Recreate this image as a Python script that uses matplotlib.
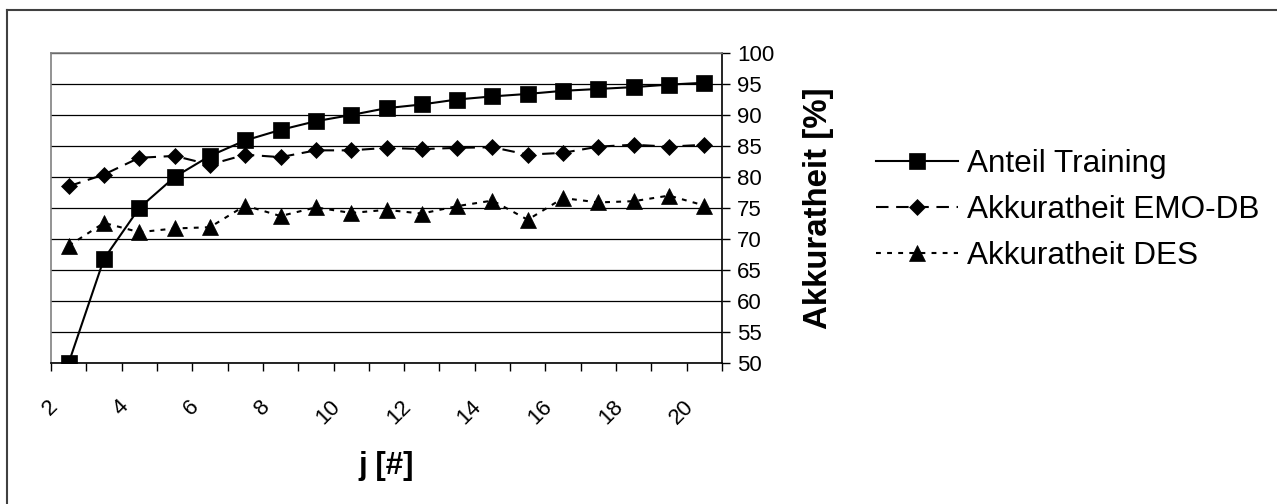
import matplotlib
matplotlib.use("Agg")
import matplotlib.pyplot as plt
from matplotlib.transforms import ScaledTranslation
from matplotlib.lines import Line2D
import numpy as np

plt.rcParams['font.family'] = ['Liberation Sans', 'DejaVu Sans']
plt.rcParams['lines.scale_dashes'] = False

# ---- data ----
j_values = list(range(2, 21))
anteil_training = [50.0, 66.8, 75.0, 80.0, 83.4, 85.9, 87.6, 89.0, 90.0, 91.1,
                   91.7, 92.5, 93.0, 93.4, 93.9, 94.2, 94.5, 94.9, 95.2]
akk_emodb = [78.5, 80.4, 83.1, 83.4, 82.0, 83.6, 83.2, 84.3, 84.3, 84.7,
             84.5, 84.7, 84.8, 83.6, 83.9, 84.9, 85.2, 84.9, 85.2]
akk_des = [68.9, 72.6, 71.1, 71.7, 71.9, 75.4, 73.7, 75.1, 74.2, 74.7,
           74.1, 75.3, 76.2, 73.1, 76.6, 75.9, 76.1, 77.0, 75.4]
series_names = ['Anteil Training', 'Akkuratheit EMO-DB', 'Akkuratheit DES']
x_label_text = 'j [#]'
y_label_text = 'Akkuratheit [%]'
y_ticks = list(range(50, 101, 5))

W, H = 1277, 504
fig = plt.figure(figsize=(W / 100, H / 100), dpi=100)
fig.patch.set_facecolor('white')

# outer chart frame (only top and left edges visible)
fig.add_artist(Line2D([7 / W, 7 / W], [0, 1 - 10 / H], transform=fig.transFigure,
                      color='#404040', lw=1.5))
fig.add_artist(Line2D([7 / W, 1], [1 - 10 / H, 1 - 10 / H], transform=fig.transFigure,
                      color='#404040', lw=1.5))

L, R, T, B = 51, 722, 53, 363
ax = fig.add_axes([L / W, 1 - B / H, (R - L) / W, (B - T) / H])

x = np.arange(len(j_values))
lw = 1.5
ax.plot(x, anteil_training, color='black', lw=lw, marker='s', markersize=11,
        markeredgewidth=0.5, label=series_names[0], zorder=5)
ax.plot(x, akk_emodb, color='black', lw=lw, dashes=(9, 5.5), marker='D',
        markersize=8, markeredgewidth=0.5, label=series_names[1], zorder=4)
ax.plot(x, akk_des, color='black', lw=lw, dashes=(3.5, 4.5), marker='^',
        markersize=11.5, markeredgewidth=0.5, label=series_names[2], zorder=4)

ax.set_xlim(-0.5, len(j_values) - 0.5)
ax.set_ylim(50, 100)

# y axis on the right
ax.yaxis.tick_right()
ax.yaxis.set_label_position('right')
ax.set_yticks(y_ticks)
ax.set_yticklabels([str(v) for v in y_ticks])
ax.tick_params(axis='y', which='major', direction='out', length=6, width=1,
               pad=5, labelsize=16, colors='black')
ax.grid(axis='y', color='black', lw=0.9)
ax.set_axisbelow(True)

# x axis: tick marks between categories, labels on every second category
ax.set_xticks(np.arange(-0.5, len(j_values), 1.0), minor=True)
lab_pos = [i for i, v in enumerate(j_values) if v % 2 == 0]
ax.set_xticks(lab_pos)
ax.set_xticklabels([str(j_values[i]) for i in lab_pos])
ax.tick_params(axis='x', which='minor', direction='out', length=6, width=1)
ax.tick_params(axis='x', which='major', length=0, pad=29, labelsize=16)
off = ScaledTranslation(-0.14, 0, fig.dpi_scale_trans)
for lbl in ax.get_xticklabels():
    lbl.set_rotation(45)
    lbl.set_rotation_mode('anchor')
    lbl.set_ha('right')
    lbl.set_va('center')
    lbl.set_transform(lbl.get_transform() + off)

for s in ['top', 'left']:
    ax.spines[s].set_color('#808080')
    ax.spines[s].set_linewidth(1.2)
for s in ['bottom', 'right']:
    ax.spines[s].set_color('black')
    ax.spines[s].set_linewidth(1.2)

ax.set_xlabel(x_label_text, fontsize=22.5, fontweight='bold', va='center')
ax.xaxis.set_label_coords(0.5, (B - 466) / (B - T))
ax.set_ylabel(y_label_text, fontsize=23.8, fontweight='bold', rotation=90,
              va='center', ha='center')
ax.yaxis.set_label_coords((819 - L) / (R - L), 0.5)

leg = fig.legend(loc='center left', bbox_to_anchor=(860 / W, 1 - 210 / H),
                 frameon=False, fontsize=22.7, handlelength=2.6,
                 handletextpad=0.3, labelspacing=0.52, borderpad=0)

fig.savefig('out.png', dpi=100, facecolor='white')
